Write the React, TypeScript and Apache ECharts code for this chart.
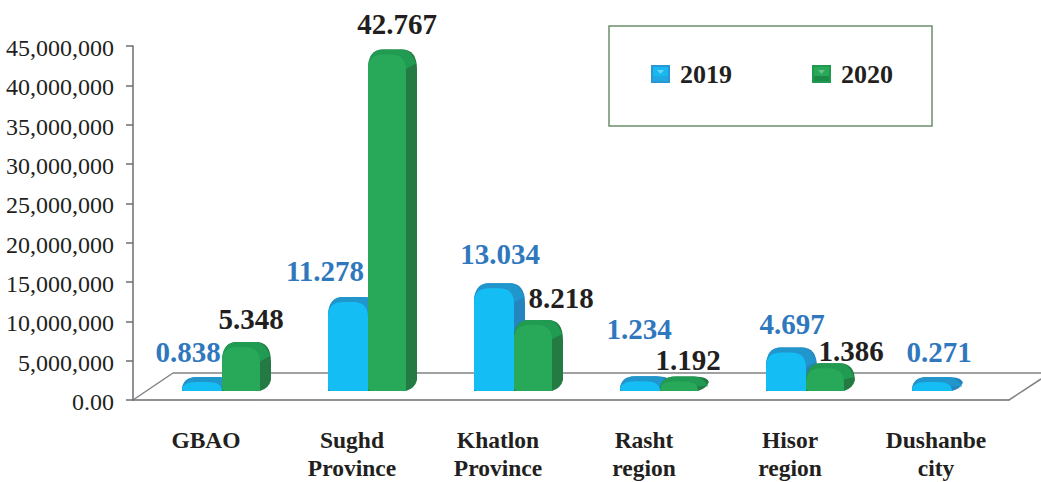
import React, { useEffect, useRef } from "react";
import * as echarts from "echarts";

const categories = ["GBAO", "Sughd\nProvince", "Khatlon\nProvince", "Rasht\nregion", "Hisor\nregion", "Dushanbe\ncity"];
const tickLabels = ["0.00", "5,000,000", "10,000,000", "15,000,000", "20,000,000", "25,000,000", "30,000,000", "35,000,000", "40,000,000", "45,000,000"];
const years = ["2019", "2020"];
// Drawn heights of the bars
const values2019 = [838000, 11300000, 13050000, 1234000, 4900000, 271000];
const values2020 = [5600000, 42767000, 8400000, 1192000, 2900000, null];
// Printed labels above the bars, as they appear
const labels2019 = ["0.838", "11.278", "13.034", "1.234", "4.697", "0.271"];
const labels2020 = ["5.348", "42.767", "8.218", "1.192", "1.386", ""];

const FONT = '"Liberation Serif", "Times New Roman", serif';
const INK = "#231F20";
const blue = { front: "#14BEF4", top: "#2196CC", side: "#2585BE", label: "#2F78BD" };
const green = { front: "#28A95A", top: "#219A52", side: "#237B43", label: INK };
// label centre relative to category centre (x) and bar's front top (y)
const labelOffset2019 = [[-18, -30], [-27, -31], [2, -34], [-5, -52], [2, -28], [3, -30]];
const labelOffset2020 = [[45, -28], [45, -31], [63, -27], [44, -22], [61, -17], [0, 0]];

const bevel = (a: string, b: string, c: string, d: string) =>
  "image://data:image/svg+xml;utf8," +
  encodeURIComponent(
    `<svg xmlns="http://www.w3.org/2000/svg" width="19" height="18"><rect width="19" height="18" fill="${a}"/><rect x="2" y="2" width="15" height="14" fill="${c}"/><rect x="2" y="11" width="15" height="5" fill="${b}"/><polygon points="6,5 13,5 9.5,9" fill="${d}"/></svg>`
  );

function makeRender(colors: typeof blue, labels: string[], offsets: number[][], dx0: number, width: number) {
  return (params: any, api: any) => {
    const idx = api.value(0);
    const v = api.value(1);
    const c = api.coord([idx, 0]);
    const t = api.coord([idx, v]);
    const yb = c[1] - 9;
    const h = Math.max(c[1] - t[1], 9);
    const yt = yb - h;
    const x0 = c[0] + dx0;
    const x1 = x0 + width;
    const rx = 15;
    const ry = Math.min(15, h);
    const dx = 11;
    const dy = 5;
    const low = Math.min(11, h);
    const sil = `M${x0} ${yt + ry}Q${x0} ${yt - dy} ${x0 + rx} ${yt - dy}L${x1 + dx - rx} ${yt - dy}Q${x1 + dx} ${yt - dy} ${x1 + dx} ${yt + Math.min(ry, h - low + 2)}L${x1 + dx} ${yb - low}Q${x1 + dx - 2} ${yb - low / 4} ${x1} ${yb}L${x0} ${yb}Z`;
    const band = `M${x0} ${yt + ry}Q${x0} ${yt - dy} ${x0 + rx} ${yt - dy}L${x1 + dx - rx} ${yt - dy}Q${x1 + 5} ${yt - dy} ${x1 + dx - 1} ${yt + Math.min(ry * 0.6, h / 2)}L${x1 - 1} ${yt + Math.min(ry, h / 2)}L${x0 + rx} ${yt + ry}Z`;
    const fr = `M${x0} ${yb - 3}Q${x0} ${yb} ${x0 + 3} ${yb}L${x1} ${yb}L${x1} ${yt + ry}Q${x1} ${yt} ${x1 - rx} ${yt}L${x0 + rx} ${yt}Q${x0} ${yt} ${x0} ${yt + ry}Z`;
    const off = offsets[idx];
    return {
      type: "group",
      children: [
        { type: "path", shape: { pathData: sil }, style: { fill: colors.side } },
        { type: "path", shape: { pathData: band }, style: { fill: colors.top } },
        { type: "path", shape: { pathData: fr }, style: { fill: colors.front } },
        {
          type: "text",
          z2: 50,
          style: {
            text: labels[idx],
            x: c[0] + off[0],
            y: yt + off[1],
            align: "center",
            verticalAlign: "middle",
            fill: colors.label,
            font: `bold 29px ${FONT}`,
          },
        },
      ],
    };
  };
}

export default function App() {
  const ref = useRef<HTMLDivElement>(null);
  useEffect(() => {
    const chart = echarts.init(ref.current!, undefined, { renderer: "svg" });
    const floor = { stroke: "#808285", lineWidth: 1.5 };
    const line = (x1: number, y1: number, x2: number, y2: number) => ({
      type: "line",
      shape: { x1, y1, x2, y2 },
      style: floor,
      silent: true,
    });
    chart.setOption({
      animation: false,
      backgroundColor: "#fff",
      grid: { left: 133, right: 32, top: 46, bottom: 82 },
      graphic: {
        z: 0,
        elements: [line(133, 400, 173, 373), line(173, 373, 1041, 373), line(1009, 400, 1041, 379)],
      },
      legend: {
        left: 609,
        top: 26,
        data: [
          { name: "2019", icon: bevel("#2A96D4", "#20A8E2", "#18B8F0", "#6FD2F2") },
          { name: "2020", icon: bevel("#1F9A50", "#1C8A48", "#28A95A", "#6CBF8C") },
        ],
        orient: "horizontal",
        itemWidth: 19,
        itemHeight: 18,
        itemGap: 80,
        padding: [35, 39, 39, 42],
        borderColor: "#6C8F6C",
        borderWidth: 1.5,
        textStyle: { fontFamily: FONT, fontWeight: "bold", fontSize: 26, color: INK, padding: [0, 0, 0, 5] },
      },
      xAxis: {
        type: "category",
        data: categories,
        axisLine: { lineStyle: { color: "#6D6E71", width: 1.5 } },
        axisTick: { length: 8, lineStyle: { color: "#4D4D4F", width: 1.5 } },
        axisLabel: {
          fontFamily: FONT,
          fontWeight: "bold",
          fontSize: 23.5,
          lineHeight: 28,
          color: INK,
          margin: 26,
          verticalAlign: "top",
        },
      },
      yAxis: {
        type: "value",
        min: 0,
        max: 45000000,
        interval: 5000000,
        splitLine: { show: false },
        axisLine: { show: true, lineStyle: { color: "#6D6E71", width: 1.5 } },
        axisTick: { show: true, length: 7, lineStyle: { color: "#6D6E71", width: 1.5 } },
        axisLabel: {
          fontFamily: FONT,
          fontSize: 24,
          color: INK,
          margin: 19,
          formatter: (_: number, i: number) => `{t|${tickLabels[i]}}`,
          rich: { t: { fontFamily: FONT, fontSize: 24, color: INK, padding: [4, 0, 0, 0] } },
        },
      },
      series: [
        {
          name: years[0],
          type: "custom",
          clip: false,
          itemStyle: { color: blue.front },
          data: values2019.map((v, i) => [i, v]),
          encode: { x: 0, y: 1 },
          renderItem: makeRender(blue, labels2019, labelOffset2019, -24, 40),
        },
        {
          name: years[1],
          type: "custom",
          clip: false,
          itemStyle: { color: green.front },
          data: values2020.map((v, i) => [i, v]).filter((d) => d[1] !== null),
          encode: { x: 0, y: 1 },
          renderItem: makeRender(green, labels2020, labelOffset2020, 16, 38),
        },
      ],
    });
    return () => chart.dispose();
  }, []);
  return <div ref={ref} style={{ position: "absolute", left: 0, top: 0, width: 1041, height: 482 }} />;
}
